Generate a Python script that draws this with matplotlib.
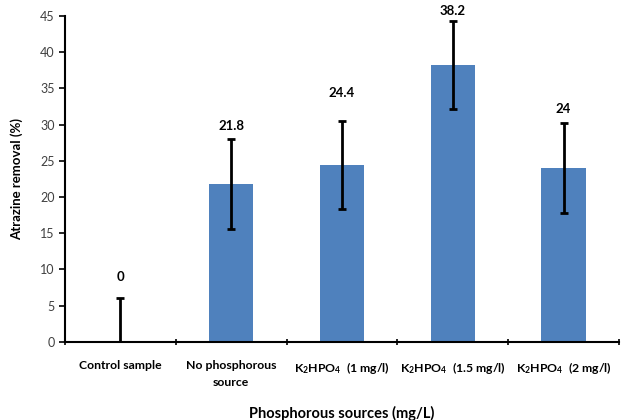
import numpy as np
import matplotlib
matplotlib.use("Agg")
import matplotlib.pyplot as plt

plt.rcParams['font.family'] = ['Lato', 'DejaVu Sans']
plt.rcParams['mathtext.fontset'] = 'custom'
plt.rcParams['mathtext.rm'] = 'Lato:bold'
plt.rcParams['mathtext.bf'] = 'Lato:bold'
plt.rcParams['mathtext.it'] = 'Lato:bold'

# data
categories = ["Control sample", "No phosphorous\nsource",
              r"K$_2$HPO$_4$  (1 mg/l)", r"K$_2$HPO$_4$  (1.5 mg/l)",
              r"K$_2$HPO$_4$  (2 mg/l)"]
removal = [0, 21.8, 24.4, 38.2, 24]
errors = [6.0, 6.2, 6.1, 6.1, 6.2]
value_labels = ["0", "21.8", "24.4", "38.2", "24"]
label_offsets = [11, 5, 16, 3, 6]  # points above the error cap

fig = plt.figure(figsize=(6.31, 4.2), dpi=100)
ax = fig.add_axes([0.103, 0.186, 0.878, 0.776])

x = np.arange(len(categories))
ax.bar(x, removal, width=0.4, color="#4F81BD", zorder=2)
ax.errorbar(x, removal, yerr=errors, fmt="none", ecolor="black",
            elinewidth=2, capsize=3, capthick=2, zorder=3)

for xi, v, e, lab, off in zip(x, removal, errors, value_labels, label_offsets):
    ax.annotate(lab, (xi, v + e), xytext=(0, off), textcoords="offset points",
                ha="center", va="bottom", fontsize=9.5, fontweight="bold")

ax.set_xlim(-0.5, len(categories) - 0.5)
ax.set_ylim(0, 45)
ax.set_yticks(np.arange(0, 46, 5))
ax.set_xticks(x)
ax.set_xticklabels(categories, fontsize=8.8, fontweight="bold", linespacing=1.7)
ax.set_xticks(np.arange(-0.5, len(categories)), minor=True)
ax.tick_params(axis="x", which="major", length=0, pad=13)
ax.tick_params(axis="x", which="minor", length=4, width=1.2, direction="inout")
ax.tick_params(axis="y", length=4, width=1.2, labelsize=9, labelcolor="#404040")

for s in ["top", "right"]:
    ax.spines[s].set_visible(False)
for s in ["left", "bottom"]:
    ax.spines[s].set_linewidth(1.5)

ax.set_ylabel("Atrazine removal (%)", fontsize=9.5, fontweight="bold", labelpad=12)
ax.set_xlabel("Phosphorous sources (mg/L)", fontsize=10.5, fontweight="bold", labelpad=13)

fig.savefig("out.png", dpi=100)
